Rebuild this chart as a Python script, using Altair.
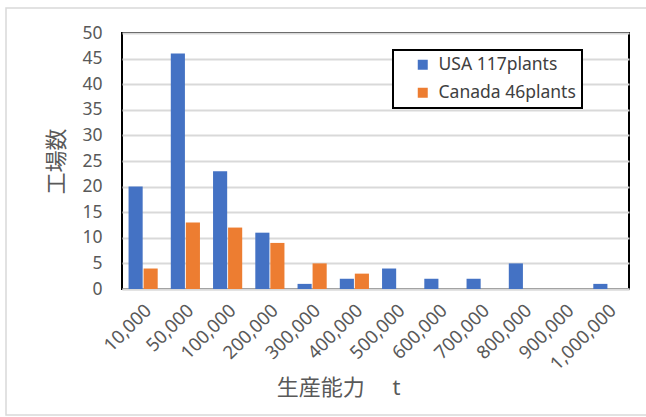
import altair as alt
import pandas as pd

categories = ["10,000", "50,000", "100,000", "200,000", "300,000", "400,000",
              "500,000", "600,000", "700,000", "800,000", "900,000", "1,000,000"]
usa = [20, 46, 23, 11, 1, 2, 4, 2, 2, 5, 0, 1]
canada = [4, 13, 12, 9, 5, 3, 0, 0, 0, 0, 0, 0]
series = ["USA 117plants", "Canada 46plants"]
colors = ["#4472C4", "#ED7D31"]
y_ticks = [0, 5, 10, 15, 20, 25, 30, 35, 40, 45, 50]

rows = []
for c, u, k in zip(categories, usa, canada):
    rows.append({"cap": c, "series": series[0], "n": u})
    rows.append({"cap": c, "series": series[1], "n": k})
df = pd.DataFrame(rows)

FONT = "Noto Sans, Noto Sans CJK JP, sans-serif"
GRAY = "#595959"

bars = alt.Chart(df).mark_bar().encode(
    x=alt.X("cap:N", sort=categories,
            scale=alt.Scale(paddingInner=0.31, paddingOuter=0.155),
            axis=alt.Axis(title="生産能力　 t", labelAngle=-45, labelAlign="right",
                          labelBaseline="middle", labelPadding=18, labelOffset=5,
                          labelFontSize=18.5, labelColor=GRAY, ticks=False,
                          domainColor="#D9D9D9", domainWidth=2,
                          titleFontSize=22, titleFontWeight="normal", titleColor=GRAY,
                          titleX=216, titleY=105, titleAlign="center",
                          titleBaseline="alphabetic")),
    xOffset=alt.XOffset("series:N", sort=series,
                        scale=alt.Scale(paddingInner=0.06)),
    y=alt.Y("n:Q", scale=alt.Scale(domain=[0, 50], nice=False),
            axis=alt.Axis(title="工場数", values=y_ticks, labelFontSize=17.5,
                          labelColor=GRAY, labelPadding=20, ticks=False, domain=False,
                          gridColor="#D9D9D9", gridWidth=2,
                          titleFontSize=22, titleFontWeight="normal", titleColor=GRAY,
                          titleX=-66, titleY=128, titleAlign="center",
                          titleBaseline="middle")),
    color=alt.Color("series:N", sort=series,
                    scale=alt.Scale(domain=series, range=colors),
                    legend=alt.Legend(title=None, orient="none", legendX=271, legendY=17,
                                      strokeColor="black",
                                      fillColor="white", padding=6,
                                      symbolType="square", symbolSize=100,
                                      symbolOffset=15,
                                      symbolStrokeWidth=0, labelFontSize=17.5,
                                      labelOffset=7,
                                      labelColor="#404040", rowPadding=9)),
)

frame = alt.Chart(pd.DataFrame({"a": [0]})).mark_rect(
    fill="transparent", stroke="#D9D9D9", strokeWidth=1.5
).encode(
    x=alt.value(-116), x2=alt.value(530), y=alt.value(-25), y2=alt.value(382)
)

chart = alt.layer(frame, bars).properties(
    width=507, height=256,
    autosize=alt.AutoSizeParams(type="none"),
    padding={"left": 122, "top": 33, "right": 17, "bottom": 128},
    background="white",
).configure(
    font=FONT
).configure_view(
    stroke="black", strokeWidth=2
).configure_legend(
    strokeWidth=2
)

chart.save("out.html", embed_options={"renderer": "svg", "actions": False})
